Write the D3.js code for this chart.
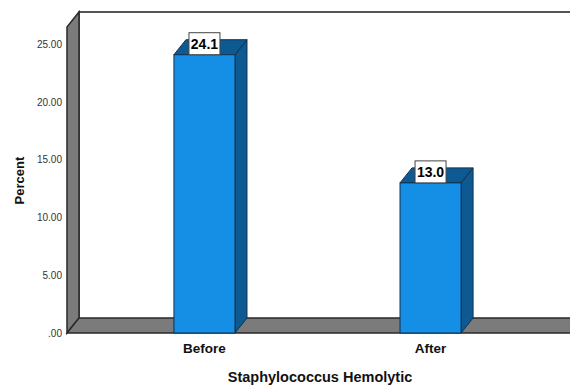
<!DOCTYPE html>
<html>
<head>
<meta charset="utf-8">
<script src="https://cdn.jsdelivr.net/npm/d3@7/dist/d3.min.js"></script>
<style>
  html, body { margin: 0; padding: 0; background: #fff; }
  svg { display: block; font-family: "Liberation Sans", Arial, sans-serif; }
</style>
</head>
<body>
<svg id="chart" width="570" height="385"></svg>
<script>
// Chart data
const categories = ["Before", "After"];
const percentValues = [24.1, 13.0];
const valueLabels = ["24.1", "13.0"];
const yTickValues = [0, 5, 10, 15, 20, 25];
const yTickLabels = [".00", "5.00", "10.00", "15.00", "20.00", "25.00"];
const xTitle = "Staphylococcus Hemolytic";
const yTitle = "Percent";

const W = 570, H = 385;
const svg = d3.select("#chart");

// Front plane of the 3D box
const left = 67, right = 568, bottom = 333;
const yMax = 26.5;
// Depth offset for the 3D effect
const DX = 12, DY = -15;
const extendRight = 610; // floor & back wall run past the right edge

const x = d3.scaleBand()
  .domain(categories)
  .range([left, right])
  .paddingInner(0.73)
  .paddingOuter(0.473);

const y = d3.scaleLinear().domain([0, yMax]).range([bottom, 27]);

const line = d3.line();
const wallFill = "#7b7b7b";
const edge = "#2a2a2a";

// Back wall outline (top edge and left back edge)
svg.append("path")
  .attr("d", line([[left + DX, y(0) + DY], [left + DX, y(yMax) + DY], [extendRight, y(yMax) + DY]]))
  .attr("fill", "none").attr("stroke", "#555").attr("stroke-width", 2);

// Left side wall
svg.append("path")
  .attr("d", line([[left, y(0)], [left, y(yMax)], [left + DX, y(yMax) + DY], [left + DX, y(0) + DY]]) + "Z")
  .attr("fill", wallFill).attr("stroke", edge).attr("stroke-width", 1.5);

// Floor
svg.append("path")
  .attr("d", line([[left, y(0)], [left + DX, y(0) + DY], [extendRight, y(0) + DY], [extendRight, y(0)]]) + "Z")
  .attr("fill", wallFill).attr("stroke", edge).attr("stroke-width", 1.5);

// Y axis tick labels
svg.append("g").selectAll("text")
  .data(yTickValues)
  .join("text")
  .attr("x", left - 5)
  .attr("y", d => y(d))
  .attr("dy", "0.35em")
  .attr("text-anchor", "end")
  .attr("font-size", 10)
  .attr("fill", "#333")
  .text((d, i) => yTickLabels[i]);

// Y axis title
svg.append("text")
  .attr("transform", `translate(19, ${y(13.2)}) rotate(-90)`)
  .attr("text-anchor", "middle")
  .attr("dy", "0.35em")
  .attr("font-size", 13)
  .attr("font-weight", "bold")
  .attr("fill", "#111")
  .text(yTitle);

// Bars
const frontFill = "#158fe6";
const sideFill = "#0d5a92";
const barEdge = "#13304d";
const bars = svg.append("g").selectAll("g")
  .data(categories.map((c, i) => ({ c, v: percentValues[i], label: valueLabels[i] })))
  .join("g");

bars.each(function (d) {
  const g = d3.select(this);
  const x0 = x(d.c), x1 = x0 + x.bandwidth();
  const yv = y(d.v), y0 = y(0);
  // side face
  g.append("path")
    .attr("d", line([[x1, yv], [x1 + DX, yv + DY], [x1 + DX, y0 + DY], [x1, y0]]) + "Z")
    .attr("fill", sideFill).attr("stroke", barEdge).attr("stroke-width", 1);
  // top face
  g.append("path")
    .attr("d", line([[x0, yv], [x0 + DX, yv + DY], [x1 + DX, yv + DY], [x1, yv]]) + "Z")
    .attr("fill", sideFill).attr("stroke", barEdge).attr("stroke-width", 1);
  // front face
  g.append("rect")
    .attr("x", x0).attr("y", yv)
    .attr("width", x1 - x0).attr("height", y0 - yv)
    .attr("fill", frontFill).attr("stroke", barEdge).attr("stroke-width", 1);

  // value label box
  const cx = (x0 + x1) / 2;
  const bw = 31, bh = 22;
  g.append("rect")
    .attr("x", cx - bw / 2).attr("y", yv - bh)
    .attr("width", bw).attr("height", bh)
    .attr("fill", "#fff").attr("stroke", "#444").attr("stroke-width", 1);
  g.append("text")
    .attr("x", cx).attr("y", yv - bh / 2)
    .attr("dy", "0.36em")
    .attr("text-anchor", "middle")
    .attr("font-size", 14)
    .attr("font-weight", "bold")
    .attr("fill", "#000")
    .text(d.label);
});

// Category labels
svg.append("g").selectAll("text")
  .data(categories)
  .join("text")
  .attr("x", d => x(d) + x.bandwidth() / 2)
  .attr("y", 353)
  .attr("text-anchor", "middle")
  .attr("font-size", 13.5)
  .attr("font-weight", "bold")
  .attr("fill", "#111")
  .text(d => d);

// X axis title
svg.append("text")
  .attr("x", 320)
  .attr("y", 382)
  .attr("text-anchor", "middle")
  .attr("font-size", 14.5)
  .attr("font-weight", "bold")
  .attr("fill", "#111")
  .text(xTitle);
</script>
</body>
</html>
